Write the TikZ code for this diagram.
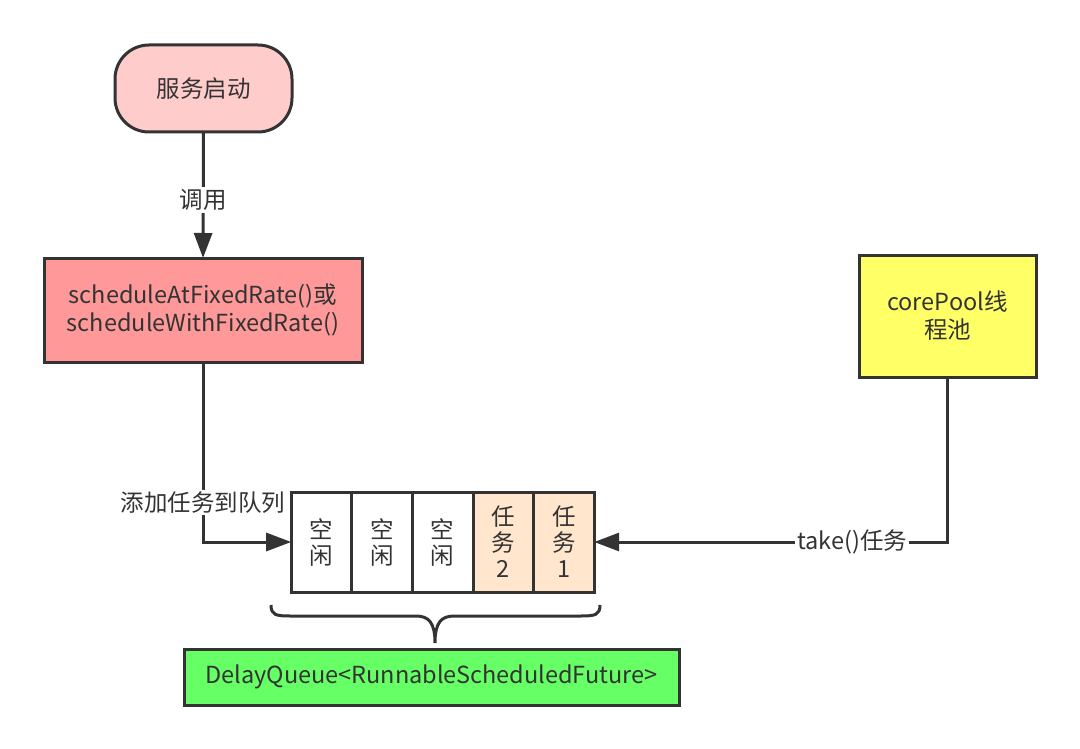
\documentclass[tikz,border=0pt]{standalone}
\usepackage{fontspec}
\setmainfont{Noto Sans CJK SC}
\usetikzlibrary{arrows.meta,positioning}

\definecolor{ink}{HTML}{333333}
\definecolor{startfill}{HTML}{FFCCCC}
\definecolor{callfill}{HTML}{FF9999}
\definecolor{poolfill}{HTML}{FFFF66}
\definecolor{taskfill}{HTML}{FFE6CC}
\definecolor{queuefill}{HTML}{66FF66}

\begin{document}
\begin{tikzpicture}[
            x=1pt, y=-1pt, color=ink, font=\fontsize{23.5}{28}\selectfont,
            align=center, line width=3,
            box/.style={draw, inner sep=2, outer sep=0},
            cell/.style={box, minimum width=60.6, minimum height=100,
                font=\fontsize{23.5}{26}\selectfont},
            lbl/.style={fill=white, inner sep=2},
            tip/.style={-{Triangle[length=25,width=18]}}
        ]
            \useasboundingbox (0,0) rectangle (1080,749);

            % start
            \node[box, fill=startfill, rounded corners=34, minimum width=177,
                minimum height=87] (start) at (203.5,88.5) {服务启动};

            % schedule call
            \node[box, fill=callfill, minimum width=318, minimum height=104]
                (call) at (203,310) {scheduleAtFixedRate()或\\scheduleWithFixedRate()};

            % core pool
            \node[box, fill=poolfill, minimum width=177, minimum height=122]
                (pool) at (947.5,316) {corePool线\\程池};

            % queue slots
            \node[cell] (q1) at (321.5,542) {空\\闲};
            \node[cell, right=0pt of q1] (q2) {空\\闲};
            \node[cell, right=0pt of q2] (q3) {空\\闲};
            \node[cell, fill=taskfill, right=0pt of q3] (q4) {任\\务\\2};
            \node[cell, fill=taskfill, right=0pt of q4] (q5) {任\\务\\1};

            % brace
            \draw (271,605) .. controls (271,615) and (276,616) .. (290,616)
                -- (416,616) .. controls (429,616) and (435,623) .. (435,643)
                .. controls (435,623) and (441,616) .. (454,616)
                -- (581,616) .. controls (595,616) and (600,615) .. (600,605);

            % delay queue
            \node[box, fill=queuefill, minimum width=495, minimum height=56]
                (dq) at (431.5,677) {DelayQueue<RunnableScheduledFuture>};

            % connectors
            \draw[tip] (start.south) -- node[lbl, pos=.54]{调用} (call.north);
            \draw[tip] (call.south) |- node[lbl, pos=.39]{添加任务到队列} (q1.west);
            \draw[tip] (pool.south) |- node[lbl, pos=.635]{take()任务} (q5.east);

        \end{tikzpicture}
\end{document}
